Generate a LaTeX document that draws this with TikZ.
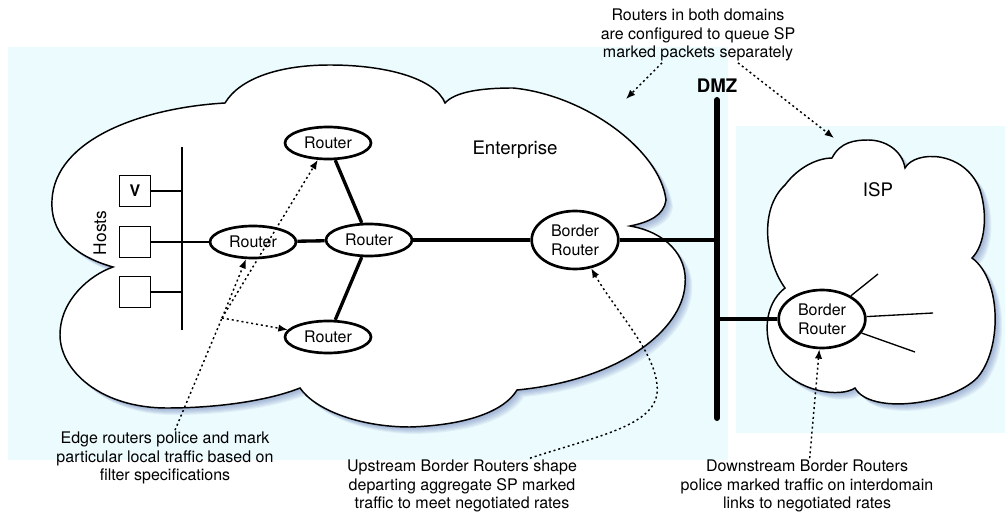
\documentclass[tikz,border=0pt]{standalone}
\usepackage{fontspec}
\setmainfont{TeX Gyre Heros}
\usetikzlibrary{shapes.geometric,arrows.meta}

\definecolor{domainbg}{RGB}{236,251,254}
\definecolor{cloudshade}{RGB}{70,95,165}

% outlines of the two domain clouds (pixel grid)
\newcommand{\entcloudpath}{(113,267) .. controls (70,255) and (50,230) .. (52,200)
  .. controls (55,140) and (140,108) .. (225,103)
  .. controls (240,78) and (280,65) .. (330,65)
  .. controls (385,65) and (435,78) .. (445,103)
  .. controls (455,92) and (480,88) .. (513,88)
  .. controls (585,95) and (660,150) .. (666,200)
  .. controls (664,215) and (650,222) .. (630,226)
  .. controls (665,232) and (688,255) .. (685,285)
  .. controls (682,330) and (620,380) .. (517,390)
  .. controls (505,410) and (470,425) .. (410,427)
  .. controls (360,427) and (315,410) .. (300,388)
  .. controls (270,400) and (220,408) .. (167,408)
  .. controls (100,408) and (60,370) .. (60,335)
  .. controls (60,300) and (90,275) .. (113,267) -- cycle}
\newcommand{\ispcloudpath}{(832,158) .. controls (840,142) and (855,140) .. (868,140)
  .. controls (885,140) and (902,150) .. (905,168)
  .. controls (915,150) and (965,150) .. (980,190)
  .. controls (988,215) and (985,245) .. (972,258)
  .. controls (1002,280) and (1002,350) .. (977,378)
  .. controls (950,405) and (870,415) .. (855,388)
  .. controls (840,398) and (798,392) .. (778,365)
  .. controls (762,340) and (763,305) .. (785,288)
  .. controls (766,262) and (758,210) .. (785,185)
  .. controls (800,165) and (820,158) .. (832,158) -- cycle}

\begin{document}
\begin{tikzpicture}[
            x = 0.75pt, y = -0.75pt, % pixel grid, y pointing down
            > = {Latex[length=7pt,width=5.5pt]}, % arrow head style
            router/.style = {ellipse, draw, line width=2pt, fill=white, minimum width=64.5pt,
                             minimum height=24pt, inner sep=0pt, align=center,
                             font=\fontsize{12}{14}\selectfont},
            borderrouter/.style = {router, minimum width=65pt, minimum height=43.5pt},
            hostbox/.style = {draw, line width=1pt, fill=white, minimum size=23pt, inner sep=0pt,
                              font=\bfseries\fontsize{12}{14}\selectfont},
            note/.style = {align=center, inner sep=1pt, font=\fontsize{12}{14}\selectfont},
            domainlabel/.style = {font=\fontsize{14}{16}\selectfont},
            link/.style = {line width=2.5pt}, % router to router
            hostlink/.style = {line width=1pt}, % lan wires
            hint/.style = {->, line width=1.1pt, dash pattern=on 1.5pt off 2.2pt}, % dotted pointers
            cloudshape/.style = {fill=white, draw, line width=1.1pt}
        ]

	\fill[white] (0,0) rectangle (1005,516);
	\useasboundingbox (0,0) rectangle (1005,516);

	% domains
	\fill[domainbg] (8,47) rectangle (728,460);
	\fill[domainbg] (736,126) rectangle (1005,433);
	\foreach \d in {1,...,7} {
		\fill[cloudshade, opacity=0.08, shift={(\d,\d)}] \entcloudpath;
		\fill[cloudshade, opacity=0.08, shift={(\d,\d)}] \ispcloudpath;
	}
	\path[cloudshape] \entcloudpath;
	\path[cloudshape] \ispcloudpath;

	\node[domainlabel] (ent) at (515,150) {Enterprise};
	\node[domainlabel] (isp) at (878,190) {ISP};

	% hosts and lan
	\node[hostbox] (hostv) at (135,191) {V};
	\node[hostbox] (hosta) at (135,242) {};
	\node[hostbox] (hostb) at (135,292) {};
	\node[rotate=90, font=\fontsize{13}{15}\selectfont] (hostlbl) at (100,233) {Hosts};
	\coordinate (bustop) at (182,147);
	\coordinate (busbot) at (182,330);

	% routers
	\node[router] (edge) at (253,242) {Router};
	\node[router] (core) at (369,240) {Router};
	\node[router] (rtop) at (328,143) {Router};
	\node[router] (rbot) at (328,337) {Router};
	\node[borderrouter] (bord) at (575,240) {Border\\Router};
	\node[borderrouter] (ispb) at (822,319) {Border\\Router};

	% dmz
	\coordinate (dmztop) at (717,100);
	\coordinate (dmzbot) at (717,418);
	\node[font=\bfseries\fontsize{14}{16}\selectfont] (dmz) at (717,86) {DMZ};

	\coordinate (spokea) at (878,274);
	\coordinate (spokeb) at (933,313);
	\coordinate (spokec) at (915,352);

	% notes
	\node[note] (notetop) at (698,35) {Routers in both domains\\are configured to queue SP\\marked packets separately};
	\node[note] (noteedge) at (165,458) {Edge routers police and mark\\particular local traffic based on\\filter specifications};
	\node[note] (noteup) at (462,486) {Upstream Border Routers shape\\departing aggregate SP marked\\traffic to meet negotiated rates};
	\node[note] (notedown) at (807,486) {Downstream Border Routers\\police marked traffic on interdomain\\links to negotiated rates};

	\coordinate (entmark) at (626,99);
	\coordinate (ispmark) at (834,138);
	\coordinate (fork) at (222,318);

	% wires
	\draw[hostlink] (bustop) -- (busbot);
	\draw[hostlink] (hostv.east) -- (hostv.east -| bustop);
	\draw[hostlink] (hosta.east) -- (hosta.east -| bustop);
	\draw[hostlink] (hostb.east) -- (hostb.east -| bustop);
	\draw[hostlink] (edge.west) -- (edge.west -| bustop);

	\draw[link] (edge) -- (core);
	\draw[link] (core) -- (rtop);
	\draw[link] (core) -- (rbot);
	\draw[link] (core) -- (bord);
	\draw[link] (bord) -- (bord -| dmztop);
	\draw[link] (ispb) -- (ispb -| dmztop);
	\draw[line width=4.5pt, line cap=round] (dmztop) -- (dmzbot);

	\draw[hostlink] (ispb) -- (spokea);
	\draw[hostlink] (ispb) -- (spokeb);
	\draw[hostlink] (ispb) -- (spokec);

	% pointers
	\draw[hint] ([xshift=-27pt]notetop.south) -- (entmark);
	\draw[hint] ([xshift=30pt]notetop.south) -- (ispmark);
	\draw[hint, -] ([xshift=7.5pt]noteedge.north) -- (fork);
	\draw[hint] (fork) -- (rtop);
	\draw[hint] (fork) -- (edge);
	\draw[hint] (fork) -- (rbot);
	\draw[hint] ([xshift=51pt]noteup.north) .. controls (600,435) and (662,425) .. (657,385)
	            .. controls (654,350) and (615,310) .. (bord);
	\draw[hint] ([xshift=2pt]notedown.north) -- (ispb);

\end{tikzpicture}
\end{document}
